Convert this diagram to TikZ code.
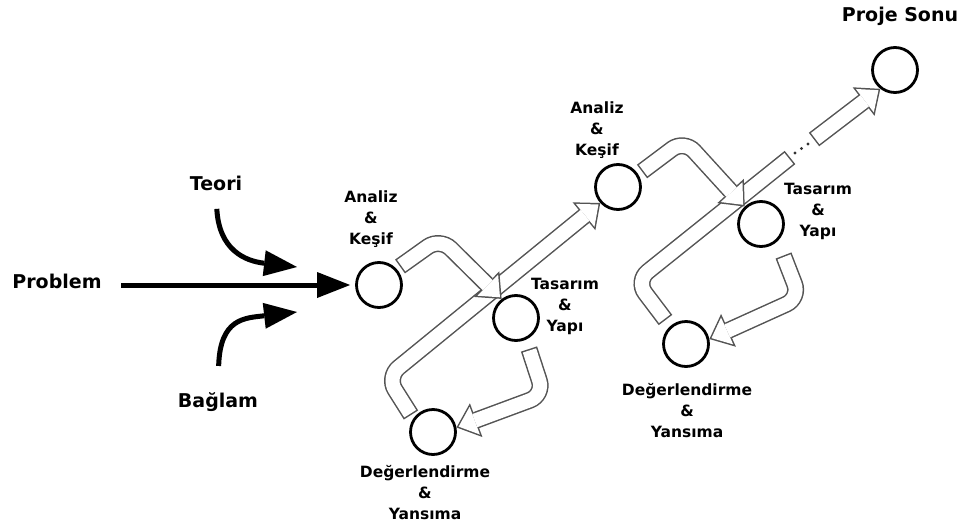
\documentclass[tikz,border=0pt]{standalone}
\usepackage{fontspec}
\setmainfont{DejaVu Sans}
\usetikzlibrary{arrows.meta}
\definecolor{pipegray}{gray}{0.33}

\newcommand\pipe[1]{\draw[pipeo,pipeo head]#1;\draw[pipei,pipei head]#1;}
\newcommand\pipeend[1]{\draw[pipeo]#1;\draw[pipei,shorten >=1.5pt]#1;}

\begin{document}
\begin{tikzpicture}[x=1pt, y=-1pt,
  stage/.style={circle, draw, line width=2.8pt, minimum size=45pt, inner sep=0pt, fill=white},
  lbl/.style={font=\fontsize{15.5}{21}\selectfont\bfseries, align=center},
  big/.style={font=\fontsize{19}{23}\selectfont\bfseries},
  bigarrow/.style={line width=5pt, -{Triangle[length=33pt, width=26pt, line width=0pt]}},
  pipeo/.style={draw=pipegray, line width=17pt, rounded corners=15pt},
  pipei/.style={draw=white, line width=14pt, rounded corners=15pt, shorten <=1.5pt}, % white core inside the grey outline
  pipeo head/.style={-{Triangle[length=21pt, width=36pt, line width=0pt]}},
  pipei head/.style={-{Triangle[length=17.2pt, width=29.5pt, line width=0pt]}, shorten >=2.3pt}]

  \useasboundingbox (0,0) rectangle (963,530);

  \node[stage] (a1) at (379,285) {};
  \node[stage] (t1) at (516,318) {};
  \node[stage] (d1) at (433,432) {};
  \node[stage] (a2) at (618,187) {};
  \node[stage] (t2) at (761,224) {};
  \node[stage] (d2) at (686,344) {};
  \node[stage] (sonu) at (895,70) {};

  \node[lbl] (a1lbl) at (371,219) {Analiz\\\&\\Keşif};
  \node[lbl] (t1lbl) at (565,306) {Tasarım\\\&\\Yapı};
  \node[lbl] (d1lbl) at (425,493) {Değerlendirme\\\&\\Yansıma};
  \node[lbl] (a2lbl) at (597,130) {Analiz\\\&\\Keşif};
  \node[lbl] (t2lbl) at (818,211) {Tasarım\\\&\\Yapı};
  \node[lbl] (d2lbl) at (687,411) {Değerlendirme\\\&\\Yansıma};
  \node[big] (sonulbl) at (900,16) {Proje Sonu};

  \node[big] (teori) at (216,183) {Teori};
  \node[big] (prob) at (57,281) {Problem};
  \node[big] (baglam) at (218,402) {Bağlam};
  \coordinate (teorihead) at (297,267);
  \coordinate (baglamhead) at (297,312);

  \draw[bigarrow, shorten <=16pt, shorten >=5pt] (prob.east |- a1) -- (a1.west);
  \draw[bigarrow, shorten <=15pt] (teori.south) .. controls (219,250) and (245,261) .. (teorihead);
  \draw[bigarrow, shorten <=23pt] (baglam.north) .. controls (220,318) and (245,318) .. (baglamhead);

  \coordinate (p1s) at (400,266.5); \coordinate (p1c) at (440,238);
  \coordinate (p2s) at (529,349);   \coordinate (p2c) at (544,395);
  \coordinate (p3s) at (411,415);   \coordinate (p3c) at (387,377);
  \coordinate (p4s) at (642,171.5); \coordinate (p4c) at (684,140);
  \coordinate (p5s) at (783.5,255.5); \coordinate (p5c) at (800,298);
  \coordinate (p6s) at (665.5,320); \coordinate (p6c) at (636,281);
  \coordinate (p6e) at (790,157.5); \coordinate (p7s) at (814,139.5);

  \pipe{(p3s) -- (p3c) -- (a2.222)}
  \pipe{(p1s) -- (p1c) -- (t1.127)}
  \pipe{(p2s) -- (p2c) -- (d1.11)}
  \pipeend{(p6s) -- (p6c) -- (p6e)}
  \pipe{(p4s) -- (p4c) -- (t2.133)}
  \pipe{(p5s) -- (p5c) -- (d2.12)}
  \pipe{(p7s) -- (sonu.232)}

  \foreach \p in {(795,153), (801.5,148.5), (808,144)}
    \fill[black!80] \p circle (1.6);
\end{tikzpicture}
\end{document}
